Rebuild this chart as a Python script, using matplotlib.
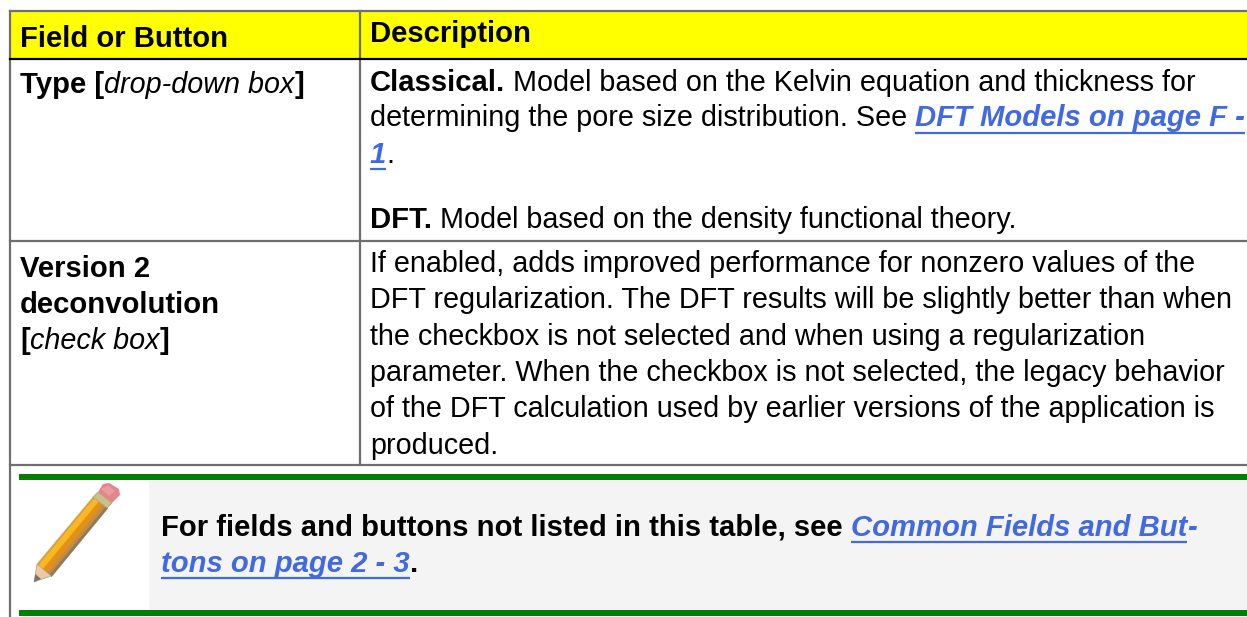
import matplotlib
matplotlib.use('Agg')
import matplotlib.pyplot as plt
from matplotlib.patches import Polygon, Rectangle

plt.rcParams['font.family'] = ['Liberation Sans', 'DejaVu Sans']

BLUE = '#4169e1'
GREY = '#6e6e6e'
SIZE = 20.7
BOLD_SIZE = 21.05

# table text, each line is a list of (text, style) runs
header_left = 'Field or Button'
header_right = 'Description'

type_field = [
    [('Type [', 'b'), ('drop-down box', 'i'), (']', 'b')],
]
type_desc = [
    [('Classical.', 'b'), (' Model based on the Kelvin equation and thickness for', 'n')],
    [('determining the pore size distribution. See ', 'n'), ('DFT Models on page F -', 'l')],
    [('1', 'l'), ('.', 'n')],
    [('DFT.', 'b'), (' Model based on the density functional theory.', 'n')],
]
version_field = [
    [('Version 2', 'b')],
    [('deconvolution', 'b')],
    [('[', 'b'), ('check box', 'i'), (']', 'b')],
]
version_desc = [
    [('If enabled, adds improved performance for nonzero values of the', 'n')],
    [('DFT regularization. The DFT results will be slightly better than when', 'n')],
    [('the checkbox is not selected and when using a regularization', 'n')],
    [('parameter. When the checkbox is not selected, the legacy behavior', 'n')],
    [('of the DFT calculation used by earlier versions of the application is', 'n')],
    [('produced.', 'n')],
]
note_text = [
    [('For fields and buttons not listed in this table, see ', 'b'),
     ('Common Fields and But', 'l'), ('-', 'h')],
    [('tons on page 2 - 3', 'l'), ('.', 'b')],
]

fig = plt.figure(figsize=(12.47, 6.17), dpi=100)
ax = fig.add_axes([0, 0, 1, 1])
ax.set_xlim(0, 1247)
ax.set_ylim(617, 0)
ax.axis('off')


def draw_run(x, y, s, style):
    kw = {'fontsize': SIZE, 'va': 'baseline', 'ha': 'left'}
    color = 'black'
    if style == 'b':
        kw.update(fontweight='bold', fontsize=BOLD_SIZE)
    elif style == 'i':
        kw['fontstyle'] = 'italic'
    elif style in ('l', 'h'):
        kw.update(fontweight='bold', fontstyle='italic', fontsize=BOLD_SIZE)
        color = BLUE
    ax.text(x, y, s, color=color, **kw)
    # trailing spaces are not measured, so stand in a dot for them
    probe = ax.text(0, 0, s + '.', **kw)
    dot = ax.text(0, 0, '.', **kw)
    r = fig.canvas.get_renderer()
    w = probe.get_window_extent(r).width - dot.get_window_extent(r).width
    probe.remove()
    dot.remove()
    if style == 'l':
        ax.plot([x, x + w], [y + 6, y + 6], color=BLUE, lw=1.6, solid_capstyle='butt')
    return x + w


def draw_lines(x, ys, lines):
    for y, line in zip(ys, lines):
        cx = x
        for s, style in line:
            cx = draw_run(cx, y, s, style)


def pencil():
    # shaft is built from strips running along it
    a, b = (37, 564), (51, 576)
    c, d = (93, 497), (107, 508)
    strips = [(0.0, 0.12, '#d8a043'), (0.12, 0.42, '#f8b91f'), (0.42, 0.7, '#e39015'),
              (0.7, 0.9, '#c98a3c'), (0.9, 1.05, '#8f7a58')]

    def mix(p, q, f):
        return (p[0] + (q[0] - p[0]) * f, p[1] + (q[1] - p[1]) * f)

    for f0, f1, col in strips:
        ax.add_patch(Polygon([mix(a, b, f0), mix(a, b, f1), mix(c, d, f1), mix(c, d, f0)],
                             fc=col, ec=col, lw=0.3, zorder=3))
    ax.add_patch(Polygon([a, b, (34, 582)], fc='#edc9a6', ec='#b99f85', lw=0.5, zorder=3))
    ax.add_patch(Polygon([(34, 582), (35.5, 574), (41, 579)], fc='#77716c', ec='none', zorder=4))
    ax.add_patch(Polygon([c, d, (112, 503), (98, 492)], fc='#c9c08f', ec='#a9a070', lw=0.5, zorder=3))
    ax.add_patch(Polygon([(98, 492), (112, 503), (120, 495), (119, 489), (109, 483), (103, 484)],
                         fc='#e5848c', ec='none', zorder=3))
    ax.add_patch(Polygon([(101, 489), (108, 485), (115, 491), (109, 496)],
                         fc='#eb9aa0', ec='none', zorder=4))


# backgrounds
ax.add_patch(Rectangle((11, 12), 1236, 47, fc='#ffff00', ec='none'))
ax.add_patch(Rectangle((149, 481), 1098, 129, fc='#f4f4f4', ec='none'))

# grid lines
ax.plot([10, 1247], [11, 11], color=GREY, lw=1.6)
ax.plot([10, 10], [11, 617], color=GREY, lw=1.6)
ax.plot([360, 360], [11, 465], color=GREY, lw=1.6)
ax.plot([10, 1247], [241, 241], color=GREY, lw=1.6)
ax.plot([10, 1247], [465, 465], color=GREY, lw=1.6)
ax.plot([10, 1247], [59, 59], color='black', lw=1.6)

# green bars of the note
ax.add_patch(Rectangle((19, 474), 1228, 6, fc='#008000', ec='none'))
ax.add_patch(Rectangle((19, 610), 1228, 6, fc='#008000', ec='none'))

pencil()

# text
ax.text(20, 47, header_left, fontsize=BOLD_SIZE, fontweight='bold', va='baseline')
ax.text(370, 42.5, header_right, fontsize=BOLD_SIZE, fontweight='bold', va='baseline')
draw_lines(20, [93], type_field)
draw_lines(370, [91, 126.5, 163, 228], type_desc)
draw_lines(20, [277, 313, 349], version_field)
draw_lines(370, [272, 308.3, 344.6, 380.9, 417.2, 453.5], version_desc)
draw_lines(161, [536, 572], note_text)

fig.savefig('out.png', dpi=100)
